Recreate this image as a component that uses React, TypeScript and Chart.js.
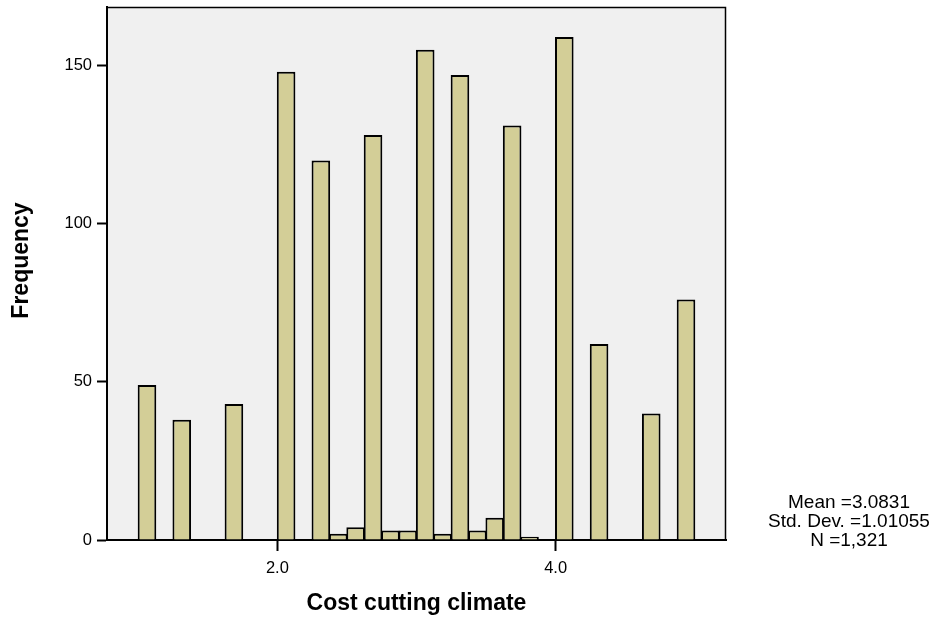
import { useEffect, useRef } from "react";
import { Chart, registerables } from "chart.js";

Chart.register(...registerables);

// Histogram bins (width 0.125, from 1.0 to 5.0) – bin centres
const binCenters = [
  1.0625, 1.1875, 1.3125, 1.4375, 1.5625, 1.6875, 1.8125, 1.9375,
  2.0625, 2.1875, 2.3125, 2.4375, 2.5625, 2.6875, 2.8125, 2.9375,
  3.0625, 3.1875, 3.3125, 3.4375, 3.5625, 3.6875, 3.8125, 3.9375,
  4.0625, 4.1875, 4.3125, 4.4375, 4.5625, 4.6875, 4.8125, 4.9375,
];
// Frequencies for each bin
const frequencies = [
  49, 0, 38, 0, 0, 43, 0, 0,
  148, 0, 120, 2, 4, 128, 3, 3,
  155, 2, 147, 3, 7, 131, 1, 0,
  159, 0, 62, 0, 0, 40, 0, 76,
];
const xTickValues = [2.0, 4.0];
const yTickValues = [0, 50, 100, 150];
const xRange = [0.775, 5.225];
const yRange = [0, 168.5];
const xTitle = "Cost cutting climate";
const yTitle = "Frequency";
const statsLines = ["Mean =3.0831", "Std. Dev. =1.01055", "N =1,321"];

const FONT = "'Liberation Sans', Arial, Helvetica, sans-serif";

const decorPlugin = {
  id: "decor",
  beforeDraw(chart: any) {
    const { ctx, chartArea: a } = chart;
    ctx.save();
    ctx.fillStyle = "#f0f0f0";
    ctx.fillRect(a.left, a.top, a.right - a.left, a.bottom - a.top);
    ctx.restore();
  },
  afterDraw(chart: any) {
    const { ctx, chartArea: a } = chart;
    ctx.save();
    // frame top + right
    ctx.strokeStyle = "#000";
    ctx.lineWidth = 1.5;
    ctx.beginPath();
    ctx.moveTo(a.left, a.top + 0.5);
    ctx.lineTo(a.right - 0.5, a.top + 0.5);
    ctx.lineTo(a.right - 0.5, a.bottom);
    ctx.stroke();

    // y axis title
    ctx.fillStyle = "#000";
    ctx.font = `bold 23px ${FONT}`;
    ctx.textAlign = "center";
    ctx.textBaseline = "middle";
    ctx.save();
    ctx.translate(22, (a.top + a.bottom) / 2 - 13);
    ctx.rotate(-Math.PI / 2);
    ctx.fillText(yTitle, 0, 0);
    ctx.restore();

    // stats text
    ctx.font = `19px ${FONT}`;
    ctx.textBaseline = "alphabetic";
    const cx = a.right + 123;
    statsLines.forEach((s, i) => {
      ctx.fillText(s, cx, a.bottom - 32 + i * 19);
    });
    ctx.restore();
  },
};

export default function App() {
  const ref = useRef<HTMLCanvasElement>(null);

  useEffect(() => {
    if (!ref.current) return;
    const chart = new Chart(ref.current, {
      type: "bar",
      data: {
        datasets: [
          {
            data: binCenters.map((x, i) => ({ x, y: frequencies[i] })),
            backgroundColor: "#d3ce97",
            borderColor: "#000",
            borderWidth: 2,
            barPercentage: 1.07,
            categoryPercentage: 1,
          },
        ],
      },
      options: {
        animation: false,
        responsive: false,
        devicePixelRatio: 1,
        layout: { padding: { top: 7, right: 216, left: 0, bottom: 0 } },
        plugins: {
          legend: { display: false },
          tooltip: { enabled: false },
        },
        scales: {
          x: {
            type: "linear",
            offset: false,
            min: xRange[0],
            max: xRange[1],
            afterBuildTicks: (s: any) => {
              s.ticks = xTickValues.map((v) => ({ value: v }));
            },
            afterFit: (s: any) => {
              s.height = 83;
              s.paddingLeft = 0;
              s.paddingRight = 0;
            },
            ticks: {
              callback: (v: any) => Number(v).toFixed(1),
              color: "#000",
              font: { family: FONT, size: 16.5 },
              padding: 8,
              maxRotation: 0,
            },
            grid: {
              offset: false,
              drawOnChartArea: false,
              drawTicks: true,
              tickLength: 11,
              tickColor: "#000",
              tickWidth: 2,
            },
            border: { display: true, color: "#000", width: 2 },
            title: {
              display: true,
              text: xTitle,
              color: "#000",
              font: { family: FONT, size: 23, weight: "bold" },
              padding: { top: 0, bottom: 6 },
            },
          },
          y: {
            type: "linear",
            min: yRange[0],
            max: yRange[1],
            afterBuildTicks: (s: any) => {
              s.ticks = yTickValues.map((v) => ({ value: v }));
            },
            afterFit: (s: any) => {
              s.width = 107;
              s.paddingTop = 0;
              s.paddingBottom = 0;
            },
            ticks: {
              color: "#000",
              font: { family: FONT, size: 16.5 },
              padding: 5,
            },
            grid: {
              drawOnChartArea: false,
              drawTicks: true,
              tickLength: 10,
              tickColor: "#000",
              tickWidth: 2,
            },
            border: { display: true, color: "#000", width: 2 },
          },
        },
      },
      plugins: [decorPlugin],
    } as any);
    return () => chart.destroy();
  }, []);

  return (
    <div style={{ position: "absolute", left: 0, top: 0, width: 942, height: 623, background: "#fff" }}>
      <canvas ref={ref} width={942} height={623} style={{ display: "block" }} />
    </div>
  );
}
